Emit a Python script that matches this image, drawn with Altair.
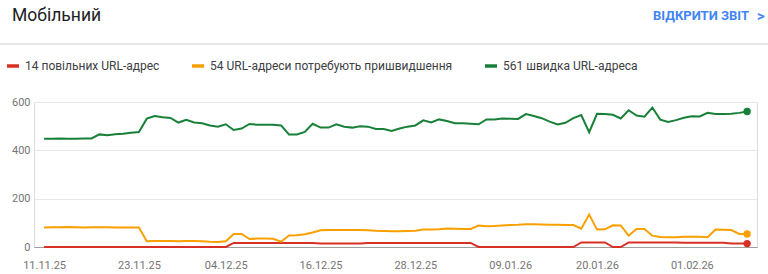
import json
import altair as alt
import pandas as pd

# ---- data ----
series_names = [
    "14 повільних URL-адрес",
    "54 URL-адреси потребують пришвидшення",
    "561 швидка URL-адреса",
]
series_colors = ["#d93025", "#f9a000", "#188038"]

tick_days = [0, 12, 23, 35, 47, 59, 70, 82]
tick_labels = ["11.11.25", "23.11.25", "04.12.25", "16.12.25",
               "28.12.25", "09.01.26", "20.01.26", "01.02.26"]
y_ticks = [0, 200, 400, 600]

slow = [0] * 24 + [17] * 11 + [14] * 6 + [17] * 14 + [0] * 13 + [19] * 4 + [0, 0] + [19] * 7 + [18] * 6 + [14] * 3

needs = [81, 82, 82, 83, 82, 81, 82, 82, 82, 81, 81, 81, 81,
         24, 25, 25, 25, 24, 25, 25, 24, 22, 21, 24,
         54, 54, 33, 35, 35, 34, 22, 48, 49, 53, 60,
         69, 70, 70, 70, 70, 70, 69, 67, 66, 65, 65, 66, 67,
         72, 72, 73, 77, 76, 75, 75, 89, 86, 87, 89, 91,
         92, 94, 94, 93, 92, 92, 91, 91, 76, 134, 72, 73, 90, 89,
         47, 75, 75, 47, 41, 40, 40, 42, 42, 42, 40, 72, 71, 70, 54, 54]

fast = [448, 448, 449, 448, 448, 449, 449, 466, 462, 467, 469, 473, 476,
        531, 542, 537, 534, 515, 526, 515, 512, 503, 498, 508, 484, 490,
        509, 506, 506, 506, 503, 466, 466, 476, 510, 494, 494, 508, 498,
        494, 500, 498, 488, 488, 480, 490, 498, 503, 524, 515, 528, 521,
        512, 512, 510, 508, 528, 528, 532, 531, 530, 550, 542, 533, 519,
        507, 514, 533, 546, 475, 551, 550, 547, 532, 566, 544, 539, 577,
        527, 517, 525, 535, 541, 540, 555, 550, 550, 551, 555, 561]

title_text = "Мобільний"
link_text = "ВІДКРИТИ ЗВІТ"

# ---- table ----
rows = []
for name, vals in zip(series_names, [slow, needs, fast]):
    for d, v in enumerate(vals):
        rows.append({"day": d, "value": v, "series": name})
df = pd.DataFrame(rows)
last_day = len(fast) - 1
df_last = df[df["day"] == last_day]

FONT = "Roboto"
W, H = 723, 145
PL, PT = 34, 102

label_expr = "{}[indexof({}, datum.value)]".format(json.dumps(tick_labels), json.dumps(tick_days))

x_enc = alt.X(
    "day:Q",
    scale=alt.Scale(domain=[-1.28, 90.25], nice=False, zero=False),
    axis=alt.Axis(values=tick_days, labelExpr=label_expr, grid=False, ticks=False,
                  domain=True, domainColor="#9e9e9e", domainWidth=1,
                  labelFont=FONT, labelFontSize=11, labelColor="#757575",
                  labelPadding=12, labelOverlap=False, title=None),
)
y_enc = alt.Y(
    "value:Q",
    scale=alt.Scale(domain=[0, 600], nice=False),
    axis=alt.Axis(values=y_ticks, grid=True, gridColor="#e8e8e8", gridWidth=1,
                  ticks=False, domain=False, labelFont=FONT, labelFontSize=11,
                  labelColor="#757575", labelPadding=4, title=None),
)
color_enc = alt.Color(
    "series:N",
    scale=alt.Scale(domain=series_names, range=series_colors),
    legend=alt.Legend(orient="none", legendX=-29, legendY=-44, direction="horizontal",
                      title=None, symbolType="stroke", symbolStrokeWidth=3.5,
                      symbolSize=144, labelFont=FONT, labelFontSize=12,
                      labelColor="#3c4043", columnPadding=25, labelOffset=4,
                      labelLimit=500),
)

lines = alt.Chart(df).mark_line(strokeWidth=2).encode(x=x_enc, y=y_enc, color=color_enc)
dots = alt.Chart(df_last).mark_circle(size=55, opacity=1).encode(
    x="day:Q", y="value:Q", color=alt.Color("series:N", legend=None))

def text_layer(txt, x, y, size, color, weight="normal", align="left"):
    return alt.Chart(pd.DataFrame({"t": [txt]})).mark_text(
        font=FONT, fontSize=size, color=color, fontWeight=weight, align=align,
        baseline="alphabetic").encode(text="t:N", x=alt.value(x), y=alt.value(y))

title = text_layer(title_text, 12 - PL, 21 - PT, 17.5, "#202124")
link = text_layer(link_text, 749 - PL, 20 - PT, 13, "#4285f4", weight="bold", align="right")
chev = text_layer(">", 757 - PL, 21 - PT, 15, "#4285f4", weight="bold")
sep = alt.Chart(pd.DataFrame({"a": [0]})).mark_rule(color="#e6e6e6", strokeWidth=2).encode(
    x=alt.value(-PL), x2=alt.value(768 - PL), y=alt.value(44 - PT))

chart = alt.layer(sep, title, link, chev, lines, dots).properties(
    width=W, height=H,
    autosize=alt.AutoSizeParams(type="none"),
    padding={"left": PL, "top": PT, "right": 768 - PL - W, "bottom": 274 - PT - H},
).configure_view(stroke=None).configure(background="white")

chart.save("out.html", embed_options={"renderer": "svg", "actions": False})
